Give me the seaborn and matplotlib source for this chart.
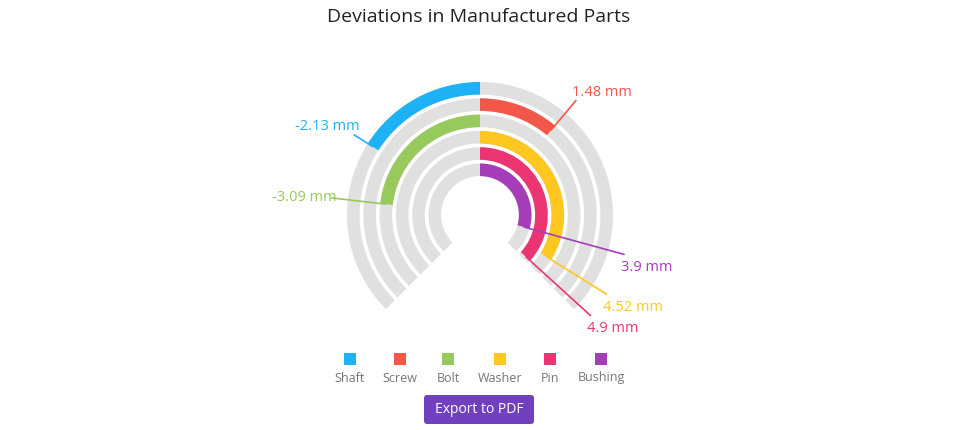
import numpy as np
import seaborn as sns
import matplotlib.pyplot as plt
from matplotlib.patches import Rectangle, FancyBboxPatch

sns.set_theme(style="white")
plt.rcParams['font.family'] = ['Open Sans', 'DejaVu Sans']

# data
parts = ["Shaft", "Screw", "Bolt", "Washer", "Pin", "Bushing"]
deviations = [-2.13, 1.48, -3.09, 4.52, 4.9, 3.9]
colors = sns.color_palette(["#1db2f5", "#f5564a", "#97c95c", "#ffc720", "#eb3573", "#a63db8"])
scale_min, scale_max = -5, 5
start_angle, end_angle = 225, -45  # degrees, like a bar gauge

W, H = 958, 430
fig = plt.figure(figsize=(W / 100, H / 100), dpi=100)

# background axes in pixel units for title, legend, button
bg = fig.add_axes([0, 0, 1, 1])
bg.set_xlim(0, W)
bg.set_ylim(H, 0)
bg.axis("off")

# polar gauge, radius in pixels
cx, cy, R = 480, 215, 200
ax = fig.add_axes([(cx - R) / W, (H - cy - R) / H, 2 * R / W, 2 * R / H], projection="polar")
ax.set_theta_offset(np.pi / 2)
ax.set_theta_direction(-1)
ax.set_rlim(0, R)
ax.set_axis_off()

sweep = np.deg2rad(start_angle - end_angle)
per_unit = sweep / (scale_max - scale_min)


def to_theta(v):
    return v * per_unit  # 0 at top, clockwise positive


outer_r = 133
pitch = 16.3
thick = 12.6

for i, (name, v, c) in enumerate(zip(parts, deviations, colors)):
    r_out = outer_r - i * pitch
    r_mid = r_out - thick / 2
    # grey track
    ax.barh(r_mid, to_theta(scale_max) - to_theta(scale_min), height=thick,
            left=to_theta(scale_min), color="#e0e0e0", edgecolor="none", align="center")
    # value bar
    ax.barh(r_mid, to_theta(v), height=thick, left=0, color=c, edgecolor="none", align="center")

# connectors and labels
r_end = 150
px = 0.72  # pixels -> points
for i, (name, v, c) in enumerate(zip(parts, deviations, colors)):
    r_out = outer_r - i * pitch
    th = to_theta(v)
    ax.plot([th, th], [r_out - thick / 2, r_end], color=c, lw=1.2, solid_capstyle="butt", zorder=3)
    ang = np.pi / 2 - th
    ca, sa = np.cos(ang), np.sin(ang)
    if ca < 0:
        ha, dx = "right", 6
    else:
        ha, dx = "left", -4
    if sa > 0.3:
        va, dy = "bottom", 0
    elif sa < -0.2:
        va, dy = "top", -5
    else:
        va, dy = "center", 0
    ax.annotate(f"{v:g} mm", xy=(th, r_end), xytext=(dx * px, dy * px), textcoords="offset points",
                ha=ha, va=va, color=c, fontsize=10.5)

# title
bg.text(479, 17, "Deviations in Manufactured Parts", ha="center", va="center",
        fontsize=14, color="#232323")

# legend
legend_x = [350, 400, 448, 500, 550, 601]
for x, name, c in zip(legend_x, parts, colors):
    bg.add_patch(Rectangle((x - 6, 353), 12, 12, color=c, lw=0))
    bg.text(x, 378, name, ha="center", va="center", fontsize=9, color="#767676")

# export button
bg.add_patch(FancyBboxPatch((424, 395), 110, 29, boxstyle="round,pad=0,rounding_size=3",
                            facecolor="#7140bf", edgecolor="none"))
bg.text(479, 409.5, "Export to PDF", ha="center", va="center", fontsize=10, color="white")

fig.savefig("out.png", dpi=100)
